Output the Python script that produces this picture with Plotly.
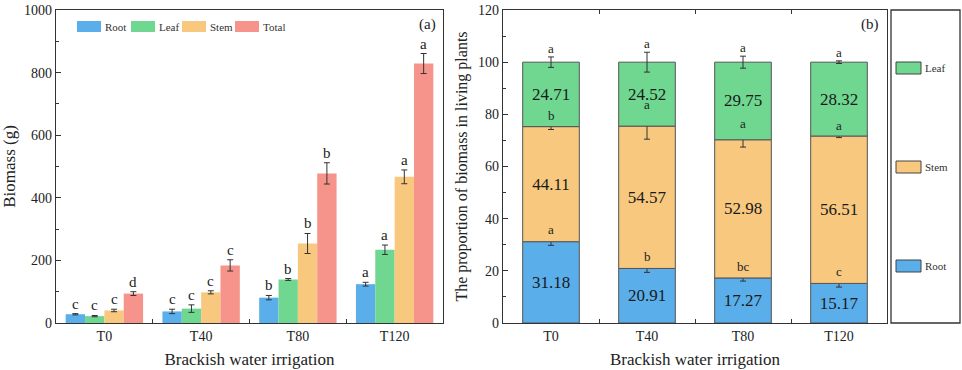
import plotly.graph_objects as go
import numpy as np

# ---------------- data ----------------
categories = ["T0", "T40", "T80", "T120"]

# Panel (a): biomass (g)
root_mass = [28, 37, 81, 124]
leaf_mass = [22, 46, 139, 234]
stem_mass = [40, 98, 254, 467]
total_mass = [94, 184, 478, 829]
root_mass_err = [2, 7, 7, 6]
leaf_mass_err = [2, 12, 3, 15]
stem_mass_err = [4, 5, 32, 22]
total_mass_err = [6, 18, 34, 32]
root_mass_sig = ["c", "c", "b", "a"]
leaf_mass_sig = ["c", "c", "b", "a"]
stem_mass_sig = ["c", "c", "b", "a"]
total_mass_sig = ["d", "c", "b", "a"]

# Panel (b): proportion (%)
root_pct = [31.18, 20.91, 17.27, 15.17]
stem_pct = [44.11, 54.57, 52.98, 56.51]
leaf_pct = [24.71, 24.52, 29.75, 28.32]
root_pct_err = [1.4, 1.5, 1.2, 1.4]
stem_pct_err = [1.1, 5.0, 2.8, 0.6]
leaf_pct_err = [2.0, 3.8, 2.3, 0.5]
root_pct_sig = ["a", "b", "bc", "c"]
stem_pct_sig = ["b", "a", "a", "a"]
leaf_pct_sig = ["a", "a", "a", "a"]

# ---------------- style ----------------
FONT = "Liberation Serif"
C_ROOT = "#5aaeea"
C_LEAF = "#6fd790"
C_STEM = "#f7c87e"
C_TOTAL = "#f6938a"
AX = "#333333"
W, H = 962, 370

def px(x):
    return x / W

def py(y):
    return 1 - y / H

fig = go.Figure()

# ----- panel (a) grouped bars -----
left_series = [
    ("Root", root_mass, root_mass_err, root_mass_sig, C_ROOT),
    ("Leaf", leaf_mass, leaf_mass_err, leaf_mass_sig, C_LEAF),
    ("Stem", stem_mass, stem_mass_err, stem_mass_sig, C_STEM),
    ("Total", total_mass, total_mass_err, total_mass_sig, C_TOTAL),
]
annotations = []
n = len(left_series)
group_w = 0.8
for i, (name, vals, errs, sig, col) in enumerate(left_series):
    fig.add_trace(go.Bar(
        x=categories, y=vals, name=name, marker=dict(color=col, line=dict(width=0)),
        error_y=dict(type="data", array=errs, color=AX, thickness=1, width=3),
        xaxis="x", yaxis="y", showlegend=False, offsetgroup=str(i),
    ))
    for j, c in enumerate(categories):
        annotations.append(dict(
            x=j + (i - (n - 1) / 2) * group_w / n, y=vals[j] + errs[j],
            xref="x", yref="y", text=sig[j], showarrow=False, yanchor="bottom",
            xanchor="center", yshift=0, font=dict(family=FONT, size=15, color="#222"),
        ))

# ----- panel (b) stacked bars -----
root_arr = np.array(root_pct)
stem_arr = np.array(stem_pct)
leaf_arr = np.array(leaf_pct)
right_series = [
    ("Root", root_arr, np.zeros(4), root_pct_err, root_pct_sig, C_ROOT),
    ("Stem", stem_arr, root_arr, stem_pct_err, stem_pct_sig, C_STEM),
    ("Leaf", leaf_arr, root_arr + stem_arr, leaf_pct_err, leaf_pct_sig, C_LEAF),
]
for name, vals, base, errs, sig, col in right_series:
    fig.add_trace(go.Bar(
        x=categories, y=vals, base=base, name=name, width=0.59, offsetgroup="stack",
        marker=dict(color=col, line=dict(color="#555555", width=1)),
        text=[f"{v:.2f}" for v in vals], textposition="inside", insidetextanchor="middle",
        textangle=0, constraintext="none",
        textfont=dict(family=FONT, size=17, color="#1a1a1a"),
        error_y=dict(type="data", array=errs, color=AX, thickness=1, width=3),
        xaxis="x2", yaxis="y2", showlegend=False,
    ))
    for j, c in enumerate(categories):
        annotations.append(dict(
            x=j, y=base[j] + vals[j] + errs[j], xref="x2", yref="y2", text=sig[j],
            showarrow=False, yanchor="bottom", xanchor="center", yshift=-1,
            font=dict(family=FONT, size=13, color="#222"),
        ))

# panel labels
annotations.append(dict(x=px(427), y=py(24), xref="paper", yref="paper", text="(a)",
                        xanchor="center", yanchor="middle",
                        showarrow=False, font=dict(family=FONT, size=15, color="#222")))
annotations.append(dict(x=px(870), y=py(24), xref="paper", yref="paper", text="(b)",
                        xanchor="center", yanchor="middle",
                        showarrow=False, font=dict(family=FONT, size=15, color="#222")))

# manual legends (wide swatches like the original)
shapes = []
left_leg = [("Root", C_ROOT, 77), ("Leaf", C_LEAF, 131), ("Stem", C_STEM, 182), ("Total", C_TOTAL, 235)]
for name, col, x0 in left_leg:
    shapes.append(dict(type="rect", xref="paper", yref="paper", x0=px(x0), x1=px(x0 + 24),
                       y0=py(32), y1=py(21), fillcolor=col, line=dict(width=0)))
    annotations.append(dict(x=px(x0 + 26), y=py(26.5), xref="paper", yref="paper", text=name,
                            xanchor="left", yanchor="middle", showarrow=False,
                            font=dict(family=FONT, size=11, color="#333")))

right_leg = [("Leaf", C_LEAF, 68), ("Stem", C_STEM, 167), ("Root", C_ROOT, 266)]
for name, col, yc in right_leg:
    shapes.append(dict(type="rect", xref="paper", yref="paper", x0=px(896), x1=px(921),
                       y0=py(yc + 6), y1=py(yc - 6), fillcolor=col,
                       line=dict(color="#444", width=1)))
    annotations.append(dict(x=px(923), y=py(yc), xref="paper", yref="paper", text=name,
                            xanchor="left", yanchor="middle", showarrow=False,
                            font=dict(family=FONT, size=11, color="#333")))
# legend frame
shapes.append(dict(type="rect", xref="paper", yref="paper", x0=px(891), x1=px(960),
                   y0=py(323), y1=py(10), line=dict(color=AX, width=1.3), fillcolor="rgba(0,0,0,0)"))

tickfont = dict(family=FONT, size=14, color="#222")
titlefont = dict(family=FONT, size=17, color="#222")

fig.update_layout(
    width=W, height=H, margin=dict(l=0, r=0, t=0, b=0, autoexpand=False),
    paper_bgcolor="white", plot_bgcolor="white",
    barmode="group", bargap=0.2, bargroupgap=0,
    showlegend=False,
    annotations=annotations, shapes=shapes,
    xaxis=dict(domain=[px(56), px(443)], anchor="y", type="category", automargin=False,
               showline=True, linecolor=AX, linewidth=1.3, mirror=True,
               ticks="inside", tickson="boundaries", ticklen=4, tickcolor=AX,
               tickfont=tickfont, showgrid=False,
               title=dict(text="Brackish water irrigation", font=titlefont, standoff=10)),
    yaxis=dict(domain=[py(323), py(10)], anchor="x", range=[0, 1000], dtick=200, automargin=False,
               showline=True, linecolor=AX, linewidth=1.3, mirror=True,
               ticks="inside", ticklen=5, tickcolor=AX, tickfont=tickfont,
               minor=dict(ticks="inside", dtick=100, ticklen=3, tickcolor=AX),
               showgrid=False, zeroline=False,
               title=dict(text="Biomass (g)", font=titlefont, standoff=6)),
    xaxis2=dict(domain=[px(503), px(887)], anchor="y2", type="category", automargin=False,
                showline=True, linecolor=AX, linewidth=1.3, mirror="ticks",
                ticks="inside", tickson="boundaries", ticklen=4, tickcolor=AX,
                tickfont=tickfont, showgrid=False,
                title=dict(text="Brackish water irrigation", font=titlefont, standoff=10)),
    yaxis2=dict(domain=[py(323), py(10)], anchor="x2", range=[0, 120], dtick=20, automargin=False,
                showline=True, linecolor=AX, linewidth=1.3, mirror=True,
                ticks="inside", ticklen=5, tickcolor=AX, tickfont=tickfont,
                minor=dict(ticks="inside", dtick=10, ticklen=3, tickcolor=AX),
                showgrid=False, zeroline=False,
                title=dict(text="The proportion of biomass in living plants",
                           font=dict(family=FONT, size=16, color="#222"), standoff=6)),
)

fig.write_html("out.html", config={"displayModeBar": False},
               post_script="document.body.style.margin='0';")
